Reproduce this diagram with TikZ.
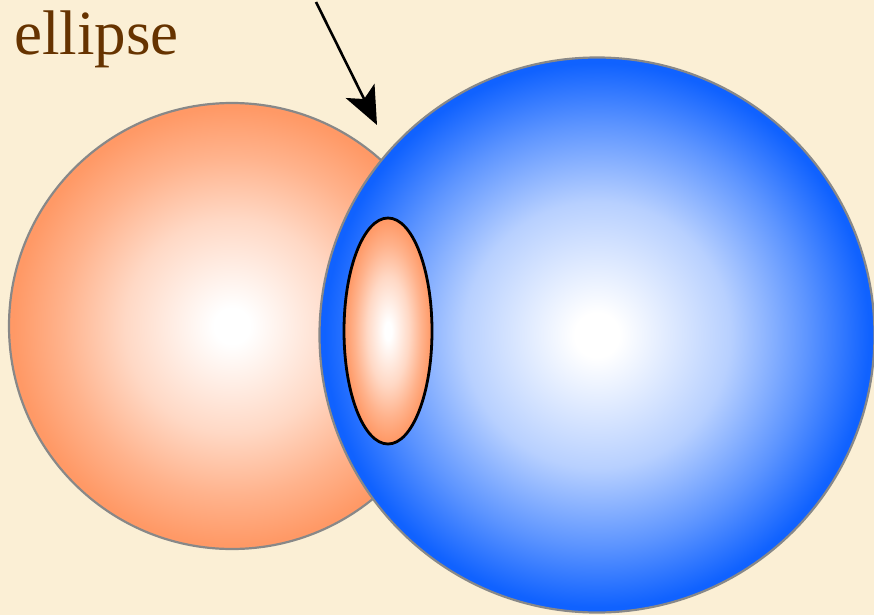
\documentclass[tikz,border=0pt]{standalone}
\usepackage{fontspec}
\setmainfont{Liberation Serif}
\usetikzlibrary{shapes.geometric,arrows.meta}
\definecolor{parchment}{RGB}{251,239,213}
\definecolor{titlebrown}{RGB}{102,51,0}
\definecolor{ballorange}{RGB}{255,153,102}
\definecolor{ballblue}{RGB}{16,98,255}
\definecolor{rimgray}{RGB}{136,136,136}
\pgfdeclareradialshading{orangeball}{\pgfpoint{0bp}{0bp}}{color(0bp)=(white); color(2bp)=(white); color(12bp)=(ballorange!38!white); color(19bp)=(ballorange!75!white); color(24.5bp)=(ballorange); color(50bp)=(ballorange)}
\pgfdeclareradialshading{blueball}{\pgfpoint{0bp}{0bp}}{color(0bp)=(white); color(2bp)=(white); color(12bp)=(ballblue!30!white); color(19bp)=(ballblue!68!white); color(24.5bp)=(ballblue); color(50bp)=(ballblue)}
\tikzset{ball/.style={circle,draw=rimgray,line width=2.2pt,inner sep=0pt}}
\begin{document}
\begin{tikzpicture}[x=1pt,y=-1pt]
\fill[parchment] (0,0) rectangle (874,615);\useasboundingbox (0,0) rectangle (874,615);\clip (0,0) rectangle (874,615);
\node[anchor=base west,text=titlebrown,font=\fontsize{63}{70}\selectfont,inner sep=0pt] (title) at (14,55){ellipse};
\node[ball,shading=orangeball,minimum size=446pt] (orangesphere) at (232,326){};
\node[ball,shading=blueball,minimum size=555pt] (bluesphere) at (597,335){};
\node[ellipse,draw=black,line width=2.8pt,shading=orangeball,minimum width=88pt,minimum height=226pt,inner sep=0pt] (lens) at (388,331){};
% arrow pointing at the place where the two spheres meet
\coordinate (tail) at (316,2);\coordinate (tip) at (377,125);
\draw[line width=2.6pt,-{Stealth[length=38pt,width=32pt,inset=9pt]}] (tail) -- (tip);
\end{tikzpicture}
\end{document}
